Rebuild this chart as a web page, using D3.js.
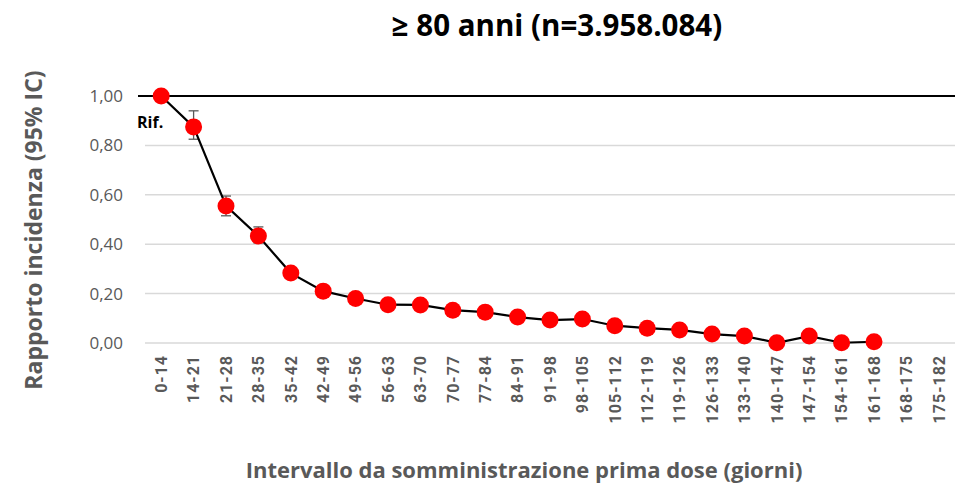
<!DOCTYPE html>
<html>
<head>
<meta charset="utf-8">
<script src="https://cdn.jsdelivr.net/npm/d3@7"></script>
<style>
  body { margin: 0; background: #fff; }
  svg text { font-family: "Open Sans", Lato, sans-serif; }
</style>
</head>
<body>
<svg id="chart" width="965" height="492"></svg>
<script>
// categories (days since first dose)
const categories = ["0-14", "14-21", "21-28", "28-35", "35-42", "42-49", "49-56", "56-63",
  "63-70", "70-77", "77-84", "84-91", "91-98", "98-105", "105-112", "112-119", "119-126",
  "126-133", "133-140", "140-147", "147-154", "154-161", "161-168", "168-175", "175-182"];
// incidence ratio (null = no data)
const ratio = [1.00, 0.875, 0.555, 0.433, 0.283, 0.210, 0.180, 0.155, 0.154, 0.133, 0.125,
  0.105, 0.093, 0.097, 0.070, 0.060, 0.053, 0.036, 0.028, 0.001, 0.028, 0.001, 0.005, null, null];
// 95% CI
const lower = [null, 0.825, 0.515, 0.405, 0.270, 0.200, 0.170, 0.145, 0.145, 0.125, 0.117,
  0.098, 0.086, 0.090, 0.064, 0.054, 0.047, 0.031, 0.023, 0.000, 0.023, 0.000, 0.002, null, null];
const upper = [null, 0.940, 0.595, 0.470, 0.297, 0.221, 0.190, 0.165, 0.163, 0.141, 0.133,
  0.112, 0.100, 0.104, 0.076, 0.066, 0.059, 0.041, 0.033, 0.003, 0.033, 0.003, 0.008, null, null];
const yTicks = [0, 0.2, 0.4, 0.6, 0.8, 1.0];

const margin = { top: 96, right: 10, bottom: 149, left: 145 };
const width = 965 - margin.left - margin.right;
const height = 492 - margin.top - margin.bottom;

const svg = d3.select("#chart");
const g = svg.append("g")
  .attr("transform", "translate(" + margin.left + "," + margin.top + ")");

const x = d3.scaleBand().domain(categories).range([0, width]);
const y = d3.scaleLinear().domain([0, 1]).range([height, 0]);
const cx = d => x(d) + x.bandwidth() / 2;

// gridlines
g.selectAll(".grid")
  .data(yTicks.filter(t => t < 1))
  .enter().append("line")
  .attr("x1", 0).attr("x2", width)
  .attr("y1", d => y(d)).attr("y2", d => y(d))
  .attr("stroke", "#d9d9d9").attr("stroke-width", 1.5);

// reference line at 1
g.append("line")
  .attr("x1", -7).attr("x2", width)
  .attr("y1", y(1)).attr("y2", y(1))
  .attr("stroke", "#000").attr("stroke-width", 2);

// y axis labels
const yAxis = g.append("g")
  .call(d3.axisLeft(y).tickValues(yTicks).tickSize(0).tickPadding(22)
    .tickFormat(d => d3.format(".2f")(d).replace(".", ",")));
yAxis.select(".domain").remove();
yAxis.selectAll("text")
  .style("font-size", "17px").attr("fill", "#595959")
  .style("font-family", "'Open Sans', sans-serif");

// x axis labels
const xAxis = g.append("g")
  .attr("transform", "translate(0," + height + ")")
  .call(d3.axisBottom(x).tickSize(0).tickPadding(0));
xAxis.select(".domain").remove();
xAxis.selectAll("text")
  .attr("transform", "rotate(-90)")
  .attr("x", -12).attr("y", 0).attr("dy", "0.36em")
  .style("text-anchor", "end")
  .style("font-size", "16px").style("font-weight", "bold").style("letter-spacing", "1px")
  .attr("fill", "#595959")
  .style("font-family", "Roboto, sans-serif");

const pts = categories.map((c, i) => ({ c: c, v: ratio[i], lo: lower[i], hi: upper[i] }))
  .filter(d => d.v !== null);

// error bars
const eb = g.selectAll(".err").data(pts.filter(d => d.lo !== null)).enter().append("g")
  .attr("stroke", "#595959").attr("stroke-width", 1.3);
eb.append("line").attr("x1", d => cx(d.c)).attr("x2", d => cx(d.c))
  .attr("y1", d => y(d.lo)).attr("y2", d => y(d.hi));
eb.append("line").attr("x1", d => cx(d.c) - 5).attr("x2", d => cx(d.c) + 5)
  .attr("y1", d => y(d.lo)).attr("y2", d => y(d.lo));
eb.append("line").attr("x1", d => cx(d.c) - 5).attr("x2", d => cx(d.c) + 5)
  .attr("y1", d => y(d.hi)).attr("y2", d => y(d.hi));

// line
g.append("path")
  .datum(pts)
  .attr("fill", "none").attr("stroke", "#000").attr("stroke-width", 2.2)
  .attr("d", d3.line().x(d => cx(d.c)).y(d => y(d.v)));

// markers
g.selectAll(".dot").data(pts).enter().append("circle")
  .attr("cx", d => cx(d.c)).attr("cy", d => y(d.v)).attr("r", 8.5)
  .attr("fill", "#ff0000");

// "Rif." label
g.append("text")
  .attr("x", -8).attr("y", y(1) + 32)
  .style("font-size", "16px").style("font-weight", "bold").attr("fill", "#000")
  .text("Rif.");

// title
svg.append("text")
  .attr("x", 557).attr("y", 36).attr("text-anchor", "middle")
  .style("font-size", "29.5px").style("font-weight", "bold").attr("fill", "#000")
  .text("\u2265 80 anni (n=3.958.084)");

// y axis title
svg.append("text")
  .attr("transform", "translate(42,230) rotate(-90)")
  .attr("text-anchor", "middle")
  .style("font-size", "23px").style("font-weight", "bold").attr("fill", "#595959")
  .text("Rapporto incidenza (95% IC)");

// x axis title
svg.append("text")
  .attr("x", 524).attr("y", 478).attr("text-anchor", "middle")
  .style("font-size", "22px").style("font-weight", "bold").attr("fill", "#595959")
  .text("Intervallo da somministrazione prima dose (giorni)");
</script>
</body>
</html>
